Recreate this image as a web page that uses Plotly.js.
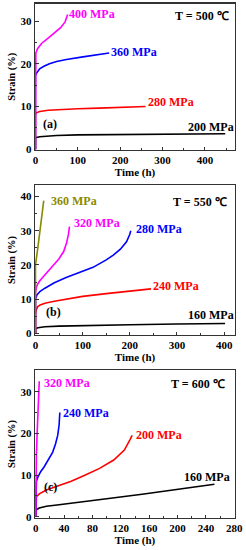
<!DOCTYPE html>
<html><head><meta charset="utf-8">
<script src="https://cdn.plot.ly/plotly-3.0.1.min.js"></script>
<style>html,body{margin:0;padding:0;background:#fff}#c{width:246px;height:550px}</style>
</head><body><div id="c"></div>
<script>
// ---- Panel (a): T = 500 C ----
const t500_200 = [0, 0, 10, 50, 100, 200, 300, 448];
const s500_200 = [0, 2.7, 2.9, 3.2, 3.35, 3.45, 3.55, 3.6];
const t500_280 = [0, 0, 2, 10, 30, 60, 100, 150, 200, 260];
const s500_280 = [0, 8.1, 8.5, 8.8, 9.1, 9.3, 9.45, 9.6, 9.75, 10.0];
const t500_360 = [0, 0, 2, 5, 10, 20, 33, 50, 73, 112, 145, 174];
const s500_360 = [0, 17.1, 17.7, 18.2, 18.8, 19.4, 20.0, 20.5, 21.0, 21.6, 22.0, 22.5];
const t500_400 = [0, 0, 1, 5, 15, 30, 45, 60, 70, 76];
const s500_400 = [0, 21.5, 22.5, 23.5, 24.8, 26, 27.2, 28.5, 29.8, 31.5];
// ---- Panel (b): T = 550 C ----
const t550_160 = [0, 0, 5, 20, 50, 100, 200, 300, 402];
const s550_160 = [0, 1.3, 1.6, 1.9, 2.1, 2.3, 2.5, 2.7, 2.85];
const t550_240 = [0, 0, 2, 5, 10, 20, 40, 65, 100, 150, 200, 245];
const s550_240 = [0, 5.5, 7, 7.8, 8.3, 8.8, 9.4, 10, 10.8, 11.6, 12.3, 13];
const t550_280 = [0, 0, 3, 10, 20, 40, 65, 100, 122, 150, 165, 180, 193, 200, 202];
const s550_280 = [0, 10, 11.2, 12.3, 13.2, 14.8, 16.3, 18, 19.3, 21.5, 22.9, 24.6, 26.8, 29, 30];
const t550_320 = [0, 0, 2, 5, 10, 20, 30, 40, 50, 60, 66, 70, 72];
const s550_320 = [0, 12, 13.5, 14.5, 15.5, 17, 18.5, 20, 21.8, 24, 26.5, 29, 31.2];
const t550_360 = [0, 0, 5, 10, 15, 17.5];
const s550_360 = [0, 20, 25, 30, 35, 38.8];
// ---- Panel (c): T = 600 C ----
const t600_160 = [0, 0, 5, 15, 30, 60, 100, 150, 200, 252];
const s600_160 = [0, 1.6, 2.1, 2.5, 2.8, 3.4, 4.3, 5.4, 6.6, 7.8];
const t600_200 = [0, 0, 1, 5, 15, 30, 50, 70, 90, 110, 125, 133, 136];
const s600_200 = [0, 4.2, 4.8, 5.5, 6.4, 7.3, 8.5, 10, 11.6, 13.6, 16, 18.5, 19.5];
const t600_240 = [0, 0, 1, 3, 7, 12, 18, 24, 28, 31, 33, 34];
const s600_240 = [0, 7.5, 8.5, 9.5, 10.8, 12, 13.7, 15.5, 17.5, 19.5, 22, 25];
const t600_320 = [0, 0, 1, 2, 3, 4, 5];
const s600_320 = [0, 10, 15, 20, 25, 29, 32.5];

const BLACK = '#000000', RED = '#ff0000', BLUE = '#0000ff', MAG = '#ff00ff', OLIVE = '#8a8a00';
function tr(x, y, c, ax) {
  return {x: x, y: y, type: 'scatter', mode: 'lines', line: {color: c, width: 1.6},
          xaxis: ax[0], yaxis: ax[1], showlegend: false, hoverinfo: 'skip'};
}
const A1 = ['x', 'y'], A2 = ['x2', 'y2'], A3 = ['x3', 'y3'];
const data = [
  tr(t500_200, s500_200, BLACK, A1), tr(t500_280, s500_280, RED, A1),
  tr(t500_360, s500_360, BLUE, A1), tr(t500_400, s500_400, MAG, A1),
  tr(t550_160, s550_160, BLACK, A2), tr(t550_240, s550_240, RED, A2),
  tr(t550_280, s550_280, BLUE, A2), tr(t550_320, s550_320, MAG, A2),
  tr(t550_360, s550_360, OLIVE, A2),
  tr(t600_160, s600_160, BLACK, A3), tr(t600_200, s600_200, RED, A3),
  tr(t600_240, s600_240, BLUE, A3), tr(t600_320, s600_320, MAG, A3)
];

const FONT = 'Liberation Serif, Times New Roman, serif';
const W = 246, H = 550;
const xd = [35 / W, 235 / W];
function yd(top, bot) { return [1 - bot / H, 1 - top / H]; }
function xax(range, dtick, anchor) {
  return {domain: xd, range: range, dtick: dtick, tick0: 0, anchor: anchor,
    showline: true, mirror: true, linecolor: '#333', linewidth: 1.2,
    ticks: 'inside', ticklen: 3.5, tickwidth: 1, tickcolor: '#333',
    minor: {dtick: dtick / 2, ticks: 'inside', ticklen: 2, tickcolor: '#333'},
    showgrid: false, zeroline: false,
    tickfont: {family: FONT, size: 11, color: '#000', weight: 'bold'},
    title: {text: '<b>Time (h)</b>', font: {family: FONT, size: 11, color: '#000'}, standoff: 2}};
}
function yax(range, dtick, dom, anchor) {
  return {domain: dom, range: range, dtick: dtick, tick0: 0, anchor: anchor,
    showline: true, mirror: true, linecolor: '#333', linewidth: 1.2,
    ticks: 'inside', ticklen: 3.5, tickwidth: 1, tickcolor: '#333',
    minor: {dtick: dtick / 2, ticks: 'inside', ticklen: 2, tickcolor: '#333'},
    showgrid: false, zeroline: false,
    tickfont: {family: FONT, size: 11, color: '#000', weight: 'bold'},
    title: {text: '<b>Strain (%)</b>', font: {family: FONT, size: 10.5, color: '#000'}, standoff: 3}};
}
function ann(text, px, py, color) {
  return {text: '<b>' + text + '</b>', x: px / W, y: 1 - py / H, xref: 'paper', yref: 'paper',
    xanchor: 'left', yanchor: 'middle', showarrow: false,
    font: {family: FONT, size: 12, color: color}};
}
const annotations = [
  ann('400 MPa', 67, 14, MAG), ann('360 MPa', 109, 52, BLUE), ann('280 MPa', 146, 102, RED),
  ann('200 MPa', 186, 127, BLACK), ann('T = 500 ℃', 173, 16, BLACK), ann('(a)', 41, 124, BLACK),
  ann('360 MPa', 49, 201, OLIVE), ann('320 MPa', 72, 223, MAG), ann('280 MPa', 134, 229, BLUE),
  ann('240 MPa', 151, 286, RED), ann('160 MPa', 186, 315, BLACK), ann('T = 550 ℃', 171, 202, BLACK),
  ann('(b)', 44, 312, BLACK),
  ann('320 MPa', 42, 383, MAG), ann('240 MPa', 61, 413, BLUE), ann('200 MPa', 134, 435, RED),
  ann('160 MPa', 182, 477, BLACK), ann('T = 600 ℃', 169, 384, BLACK), ann('(c)', 42, 487, BLACK)
];
const layout = {
  width: W, height: H, margin: {l: 0, r: 0, t: 0, b: 0},
  paper_bgcolor: '#fff', plot_bgcolor: '#fff', showlegend: false,
  xaxis: xax([-1, 471], 100, 'y'),
  yaxis: yax([-0.2, 34.1], 10, yd(3.5, 150), 'x'),
  xaxis2: xax([-1, 423], 100, 'y2'),
  yaxis2: yax([-0.5, 43.4], 10, yd(185, 335), 'x2'),
  xaxis3: xax([-1, 281], 40, 'y3'),
  yaxis3: yax([-0.3, 35.2], 10, yd(370, 518), 'x3'),
  annotations: annotations
};
Plotly.newPlot('c', data, layout, {staticPlot: true});
</script></body></html>
